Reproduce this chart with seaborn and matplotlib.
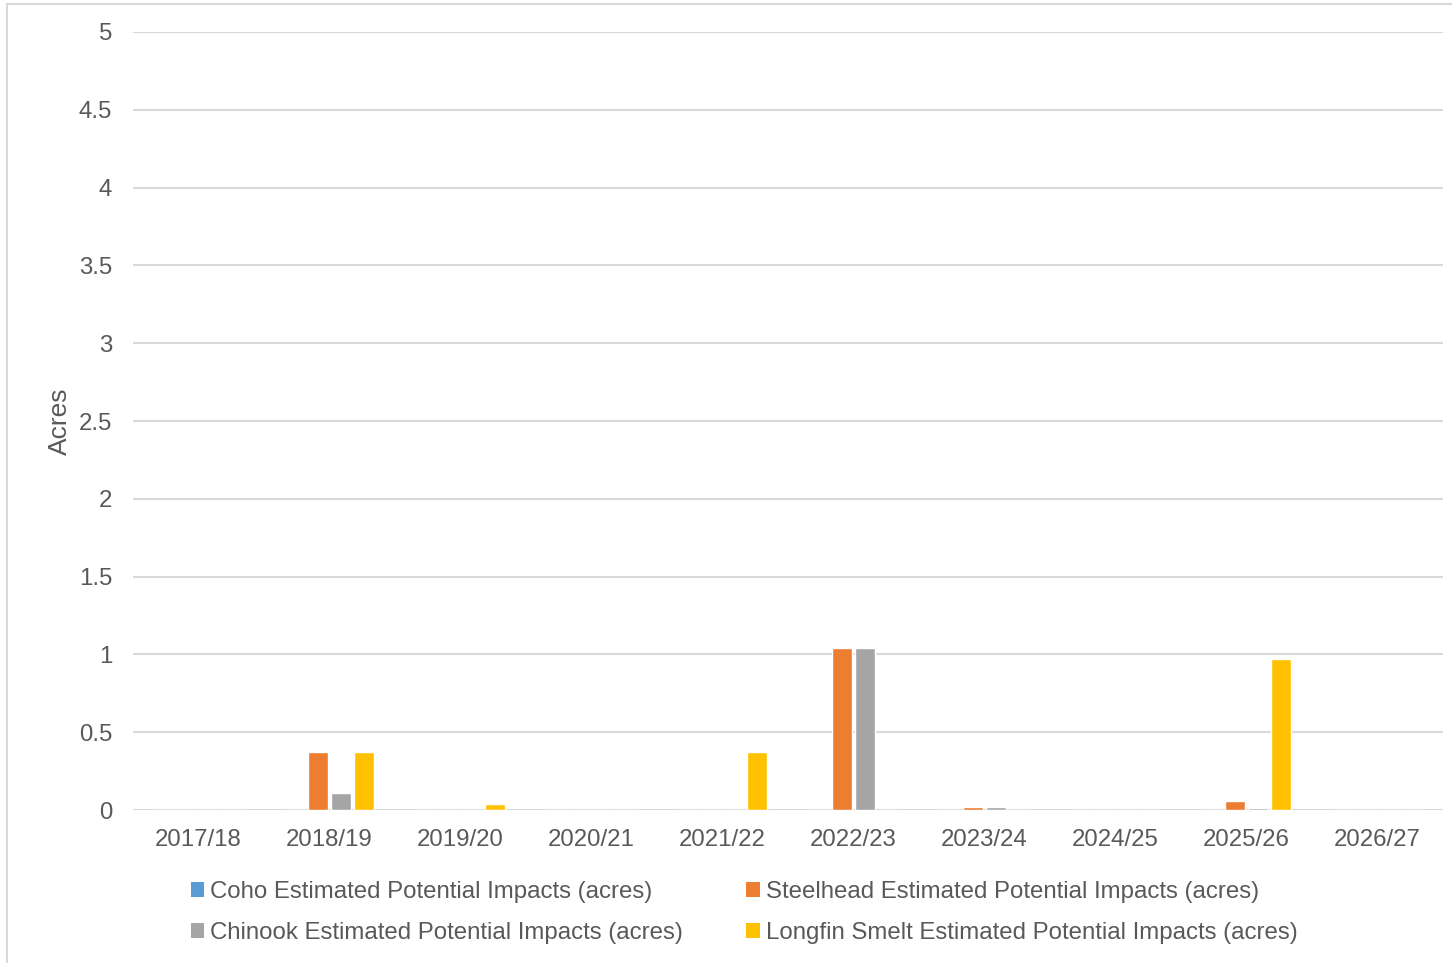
import matplotlib
matplotlib.use("Agg")
import matplotlib.pyplot as plt
import seaborn as sns
import pandas as pd
from matplotlib.lines import Line2D
from matplotlib.patches import Patch

seasons = ["2017/18", "2018/19", "2019/20", "2020/21", "2021/22",
           "2022/23", "2023/24", "2024/25", "2025/26", "2026/27"]
coho = [0, 0, 0, 0, 0, 0, 0, 0, 0, 0]
steelhead = [0, 0.37, 0, 0, 0, 1.04, 0.02, 0, 0.06, 0]
chinook = [0, 0.11, 0, 0, 0, 1.04, 0.02, 0, 0.01, 0]
longfin = [0, 0.37, 0.04, 0, 0.37, 0, 0, 0, 0.97, 0]

series_names = ["Coho Estimated Potential Impacts (acres)",
                "Steelhead Estimated Potential Impacts (acres)",
                "Chinook Estimated Potential Impacts (acres)",
                "Longfin Smelt Estimated Potential Impacts (acres)"]
colors = ["#5B9BD5", "#ED7D31", "#A5A5A5", "#FFC000"]

rows = []
for name, vals in zip(series_names, [coho, steelhead, chinook, longfin]):
    for s, v in zip(seasons, vals):
        rows.append({"Season": s, "Series": name, "Acres": v})
df = pd.DataFrame(rows)

sns.set_theme(style="white")
plt.rcParams["font.family"] = ["Liberation Sans", "DejaVu Sans"]

fig = plt.figure(figsize=(14.52, 9.63), dpi=100)
ax = fig.add_axes([133 / 1452, 1 - 810 / 963, (1443 - 133) / 1452, (810 - 32) / 963])

sns.barplot(data=df, x="Season", y="Acres", hue="Series", order=seasons,
            hue_order=series_names, palette=colors, width=0.7, gap=0.15,
            saturation=1, ax=ax, legend=False, zorder=3)

ax.set_ylim(0, 5)
ax.set_yticks([0, 0.5, 1, 1.5, 2, 2.5, 3, 3.5, 4, 4.5, 5])
ax.set_yticklabels(["0", "0.5", "1", "1.5", "2", "2.5", "3", "3.5", "4", "4.5", "5"])
ax.yaxis.grid(True, color="#D9D9D9", linewidth=1.5, zorder=0)
ax.set_axisbelow(True)
for sp in ax.spines.values():
    sp.set_visible(False)
ax.tick_params(axis="both", length=0, labelsize=17.3, colors="#595959")
ax.tick_params(axis="y", pad=15)
ax.tick_params(axis="x", pad=14)
ax.set_xlabel("")
ax.set_ylabel("Acres", fontsize=19, color="#595959")
ax.yaxis.set_label_coords(-0.0465, 0.5)
ax.set_xlim(-0.5, len(seasons) - 0.5)

order = [0, 2, 1, 3]
handles = [Patch(facecolor=colors[i], edgecolor="none") for i in order]
labels = [series_names[i] for i in order]
fig.legend(handles, labels, ncol=2, loc="upper left",
           bbox_to_anchor=(191 / 1452, 1 - 881 / 963), frameon=False,
           fontsize=17.3, labelcolor="#595959", handlelength=0.55,
           handleheight=0.55, handletextpad=0.25, columnspacing=2.63,
           labelspacing=0.8, borderaxespad=0, borderpad=0)

fig.add_artist(Line2D([7 / 1452, 7 / 1452], [0, 1 - 4 / 963], color="#D9D9D9",
                      linewidth=1.5, transform=fig.transFigure))
fig.add_artist(Line2D([7 / 1452, 1], [1 - 4 / 963, 1 - 4 / 963], color="#D9D9D9",
                      linewidth=1.5, transform=fig.transFigure))

fig.savefig("out.png", dpi=100, facecolor="white")
